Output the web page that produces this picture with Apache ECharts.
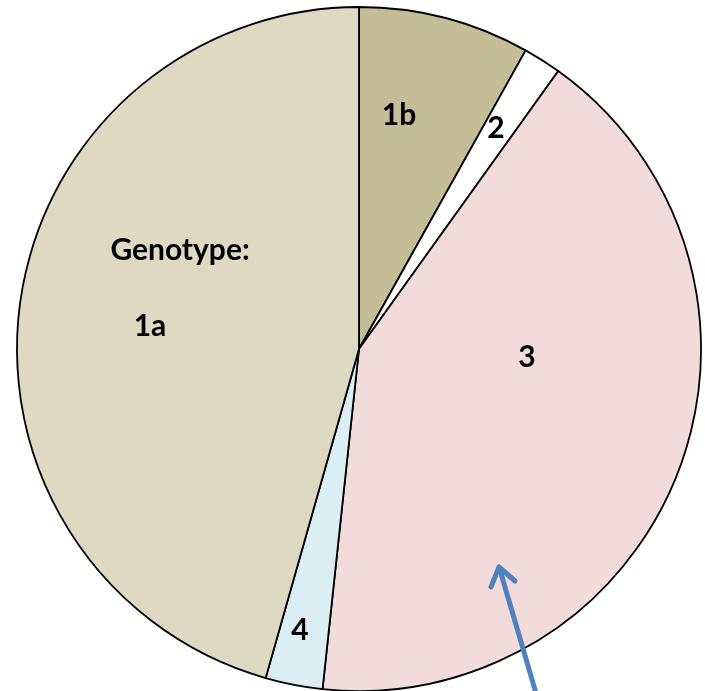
<!DOCTYPE html>
<html>
<head>
<meta charset="utf-8">
<script src="https://cdn.jsdelivr.net/npm/echarts@6/dist/echarts.min.js"></script>
<style>
  html, body { margin: 0; padding: 0; background: #fff; }
  #chart { width: 705px; height: 691px; }
</style>
</head>
<body>
<div id="chart"></div>
<script>
// genotype shares (%), clockwise from 12 o'clock
const genotypes = ['1b', '2', '3', '4', '1a'];
const shares = [8.1, 1.8, 41.8, 2.7, 45.6];
const sliceColors = ['#C4BD97', '#FFFFFF', '#F2DCDB', '#DBEEF4', '#DDD9C3'];

const chart = echarts.init(document.getElementById('chart'));

const labelFont = 'bold 30px Lato, "Open Sans", sans-serif';
const txt = (x, y, s) => ({
  type: 'text', x: x, y: y, z: 10,
  style: { text: s, font: labelFont, fill: '#000', align: 'center', verticalAlign: 'middle' }
});

chart.setOption({
  animation: false,
  series: [{
    type: 'pie',
    center: [359, 349],
    radius: 342,
    startAngle: 90,
    clockwise: true,
    label: { show: false },
    labelLine: { show: false },
    emphasis: { disabled: true },
    itemStyle: { borderColor: '#000', borderWidth: 1.8 },
    data: genotypes.map((g, i) => ({
      name: g,
      value: shares[i],
      itemStyle: { color: sliceColors[i] }
    }))
  }],
  graphic: [
    txt(180, 250, 'Genotype:'),
    txt(150, 326, '1a'),
    txt(399, 115, '1b'),
    txt(496, 128, '2'),
    txt(527, 357, '3'),
    txt(300, 630, '4'),
    // annotation arrow
    {
      type: 'line', z: 11,
      shape: { x1: 538, y1: 700, x2: 500, y2: 570 },
      style: { stroke: '#4F81BD', lineWidth: 5 }
    },
    {
      type: 'polyline', z: 11,
      shape: { points: [[515, 581], [499, 567], [491, 587]] },
      style: { stroke: '#4F81BD', lineWidth: 5, fill: null, lineJoin: 'round', lineCap: 'round' }
    }
  ]
});
</script>
</body>
</html>
